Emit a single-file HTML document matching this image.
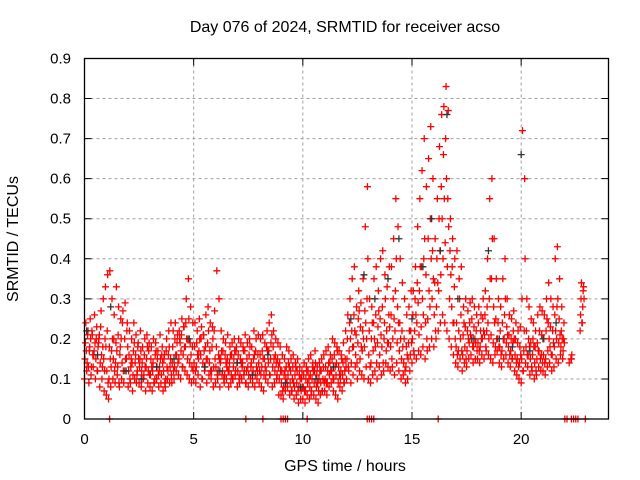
<!DOCTYPE html>
<html><head><meta charset="utf-8"><style>
html,body{margin:0;padding:0;background:#fff}
svg{display:block;font-family:"Liberation Sans",sans-serif}
</style></head><body>
<svg id="c" width="640" height="480" xmlns="http://www.w3.org/2000/svg">
<text x="345" y="32" font-size="16" text-anchor="middle">Day 076 of 2024, SRMTID for receiver acso</text>
<text x="345" y="471" font-size="16" text-anchor="middle">GPS time / hours</text>
<text transform="translate(18,239) rotate(-90)" font-size="16" text-anchor="middle">SRMTID / TECUs</text>
<g id="grid"></g>
<g id="ticks"></g>
<g id="red"></g>
<rect x="84.5" y="58.5" width="524" height="360.5" fill="none" stroke="#000" stroke-width="1.3"/>
</svg>
<script>
const xTicks=[0,5,10,15,20];
const yTicks=[0,0.1,0.2,0.3,0.4,0.5,0.6,0.7,0.8,0.9];
const yTickLabels=["0","0.1","0.2","0.3","0.4","0.5","0.6","0.7","0.8","0.9"];
// red values per 0.1h bin from t=0, in hundredths (-1 = no point)
const redA=[10,12,9,11,13,10,12,8,10,7, 6,5,8,10,9,11,8,10,9,12, 8,9,7,10,11,9,8,10,7,9, 8,7,9,10,8,9,7,8,10,9, 9,10,12,11,10,13,12,11,10,9, 10,9,11,8,10,12,9,11,10,8, 9,10,8,11,9,10,8,9,10,11, 8,9,10,11,9,8,10,9,8,10, 9,8,7,10,9,11,8,9,10,6, 6,5,7,8,6,7,5,6,4,5, 5,4,6,5,7,6,5,4,6,7, 7,6,8,9,7,6,5,8,7,9, 10,12,9,11,13,10,12,11,10,13, 10,9,11,12,10,13,11,12,14,13, 12,13,11,14,12,10,11,9,10,12, 14,16,15,17,16,18,15,17,18,20, 18,20,22,24,26,24,22,20,18,16, 14,13,15,12,14,13,15,16,14,15, 15,14,16,15,17,16,15,14,16,17, 14,13,15,16,14,13,15,12,11,10, 9,12,14,13,11,12,10,11,13,12, 12,11,13,14,12,13,15,14,16,15, -1,-1,14,15,-1,-1,-1,22,24,-1];
const redB=[15,14,17,13,16,15,18,14,13,12, 12,10,13,15,14,13,16,14,12,15, 12,13,11,14,12,13,12,11,13,12, 11,12,10,13,12,11,12,10,12,13, 14,13,16,15,17,16,18,15,14,13, 14,13,15,16,14,13,15,14,12,13, 13,12,14,12,11,13,12,11,13,12, 12,11,13,12,12,11,13,12,11,12, 12,13,11,12,14,15,13,12,11,10, 9,8,10,11,9,10,8,9,8,7, 8,7,9,8,10,9,8,7,9,10, 10,9,11,12,10,11,9,10,11,12, 15,17,14,18,16,19,15,17,18,20, 16,14,17,18,19,16,18,20,17,19, 18,20,22,19,17,15,14,13,15,16, 20,22,24,21,23,26,24,25,28,30, 26,28,32,36,40,44,38,30,28,24, 18,17,20,16,18,17,19,20,18,19, 19,18,20,21,22,20,21,19,18,20, 18,17,20,19,18,17,19,16,15,14, 15,17,18,16,15,16,14,15,17,16, 16,15,17,18,16,18,20,19,18,17, -1,-1,-1,16,-1,-1,-1,26,28,-1];
const redC=[19,21,18,22,17,20,19,23,18,20, 22,18,17,20,19,21,18,24,20,22, 16,15,17,16,18,15,14,16,15,17, 15,14,16,15,13,16,15,17,16,15, 18,20,19,22,21,23,24,20,19,18, 18,19,17,20,21,18,19,17,18,22, 18,16,15,17,16,15,14,16,15,17, 16,15,14,17,15,16,14,15,17,16, 16,17,15,18,17,19,18,16,15,14, 12,11,13,14,12,13,11,12,11,10, 11,10,12,11,13,12,11,10,12,13, 13,12,14,15,16,14,13,12,14,15, 20,24,22,26,21,25,23,22,27,30, 22,20,24,26,23,25,28,24,22,26, 26,30,32,28,24,22,20,18,19,22, 26,30,34,32,38,40,36,45,50,42, 34,40,50,58,66,70,55,42,38,33, 24,22,26,21,23,22,24,25,23,22, 24,22,25,26,28,30,35,28,25,24, 22,24,26,23,21,20,22,20,19,18, 30,22,22,20,19,20,18,19,22,21, 20,22,24,23,22,26,28,25,22,20, -1,-1,-1,-1,-1,-1,-1,30,32,-1];
const redD=[24,22,25,21,26,23,20,27,30,33, 36,37,30,26,33,28,25,27,29,24, 22,20,24,21,19,22,18,20,21,19, 18,20,19,17,21,18,16,20,22,24, 22,24,21,20,25,23,30,35,28,24, 24,22,25,23,21,26,28,24,23,27, 37,30,22,20,19,21,18,19,20,18, 20,19,18,21,19,20,18,22,20,21, 20,21,19,22,24,26,22,20,19,18, 16,15,18,17,15,16,14,15,13,12, 14,13,15,16,14,17,13,14,15,16, 17,18,16,20,19,18,17,16,19,22, 26,30,35,38,28,32,29,35,48,58, 30,28,35,38,32,40,42,36,33,38, 38,45,55,48,40,34,30,26,28,32, 32,38,48,55,62,70,58,65,73,60, 45,55,68,76,78,83,77,50,45,40, 42,35,38,28,30,27,29,30,28,26, 28,26,30,32,40,55,60,45,35,30, 28,35,40,30,26,25,27,24,22,23, 72,60,30,28,25,24,22,26,28,27, 26,30,34,30,28,40,43,35,28,24, -1,-1,-1,-1,-1,-1,-1,34,33,-1];
const redE=[17,13,20,16,19,12,21,16,15,18, 9,15,20,12,17,9,20,12,15,18, 10,14,19,9,15,17,10,13,18,11, 13,9,17,11,15,14,9,13,18,11, 12,16,14,19,13,18,20,25,16,12, 12,16,20,10,17,15,22,12,20,15, 11,15,17,10,14,12,16,10,17,14, 10,14,17,9,13,18,11,16,13,14, 11,15,13,17,11,21,15,14,13,12, 7,12,9,13,7,9,13,7,10,8, 7,12,10,6,12,14,9,12,7,9, 9,14,12,10,13,17,11,15,9,13, 13,20,18,22,14,27,18,20,24,40, 13,24,20,14,27,21,14,30,19,23, 15,25,40,24,20,18,12,16,22,19, 17,26,29,38,30,45,20,32,40,35, 22,34,42,50,55,60,48,36,24,20, 16,30,17,24,15,20,21,18,20,17, 17,20,22,18,24,35,45,24,20,18, 16,20,30,21,16,15,20,14,13,16, 12,40,16,18,13,18,12,17,15,14, 14,25,20,16,19,22,30,21,20,19, -1,-1,15,-1,-1,-1,-1,24,30,-1];
const zeroTimes=[1.15,7.39,8.17,9.0,9.1,9.2,9.3,10.2,12.95,13.05,13.15,13.25,16.2,22.0,22.1,22.3,22.4,22.5,22.6,22.94];
const blackTimes=[0.1,0.6,1.2,1.9,2.6,3.3,4.1,4.8,5.5,6.2,7.0,7.7,8.4,9.2,9.9,10.6,11.4,12.2,12.8,13.3,13.9,14.4,15.0,15.5,15.9,16.3,16.6,17.1,17.8,18.5,19.0,19.6,20.0,20.4,21.0,21.6];
const blackValues=[0.22,0.16,0.28,0.12,0.10,0.13,0.15,0.2,0.13,0.12,0.14,0.11,0.16,0.09,0.08,0.1,0.13,0.25,0.36,0.3,0.35,0.45,0.25,0.38,0.5,0.42,0.76,0.3,0.2,0.42,0.2,0.18,0.66,0.17,0.2,0.24];
const X0=84.5,X1=608.5,Y0=419,Y1=58.5,TMAX=24,VMAX=0.9;
const xs=t=>X0+(X1-X0)*t/TMAX, ys=v=>Y0-(Y0-Y1)*v/VMAX;
const NS="http://www.w3.org/2000/svg";
function mk(tag,attrs,parent){const e=document.createElementNS(NS,tag);for(const k in attrs)e.setAttribute(k,attrs[k]);parent.appendChild(e);return e;}
const grid=document.getElementById('grid'),ticks=document.getElementById('ticks');
xTicks.forEach(t=>{const x=xs(t);
 if(t>0){const g=mk('line',{x1:x,x2:x,y1:Y1,y2:Y0,stroke:'#a0a0a0','stroke-dasharray':'3,3'},grid);
 
 }
 const tk=mk('path',{d:`M${x},${Y0}v-7M${x},${Y1}v7`,stroke:'#000'},ticks);
 
 
 const l=mk('text',{x:x,y:444,'font-size':15,'text-anchor':'middle'},ticks);l.textContent=String(t);
 
 });
yTicks.forEach((v,i)=>{const y=ys(v);
 if(v>0&&v<0.9){const g=mk('line',{x1:X0,x2:X1,y1:y,y2:y,stroke:'#a0a0a0','stroke-dasharray':'3,3'},grid);
 
 }
 const tk=mk('path',{d:`M${X0},${y}h7M${X1},${y}h-7`,stroke:'#000'},ticks);
 
 
 const l=mk('text',{x:71,y:y+5,'font-size':15,'text-anchor':'end'},ticks);l.textContent=yTickLabels[i];
 
 });
function plus(t,v,col,parent){const x=xs(t),y=ys(v);
 const p=mk('path',{d:`M${x-3.5},${y}h7M${x},${y-3.5}v7`,stroke:col,'stroke-width':1.3},parent);
 
 }
const red=document.getElementById('red');
[redA,redB,redC,redD,redE].forEach((arr,k)=>{arr.forEach((h,i)=>{if(h<0)return;plus(i*0.1+k*0.02,h/100,'#ff0000',red);});});
zeroTimes.forEach(t=>plus(t,0,'#ff0000',red));
blackTimes.forEach((t,i)=>plus(t,blackValues[i],'#333',red));
</script>
</body></html>
